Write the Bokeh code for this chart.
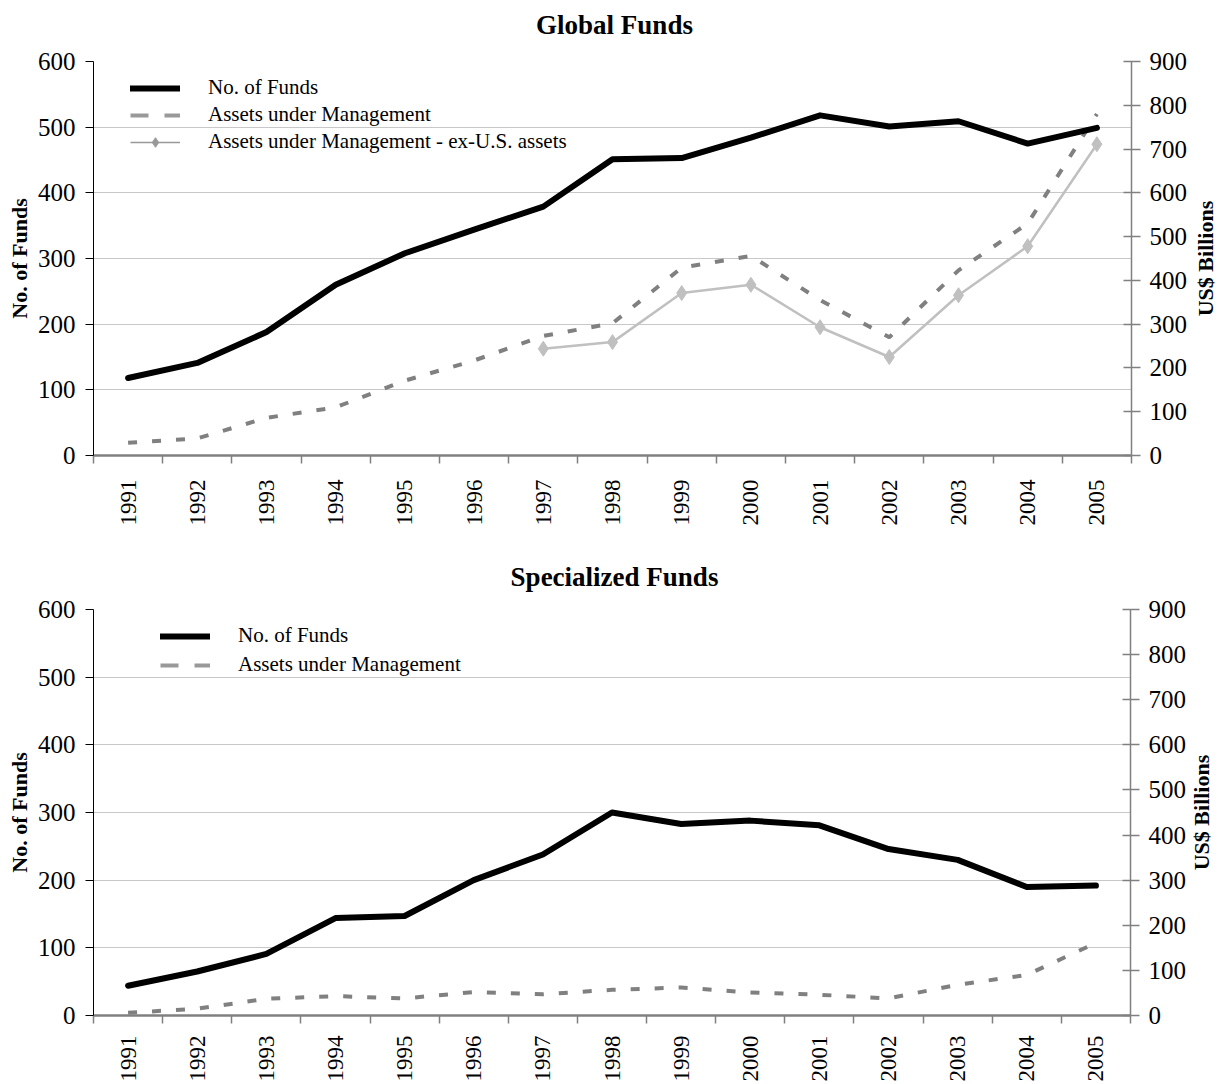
import math
from bokeh.plotting import figure
from bokeh.models import Range1d, LinearAxis, FixedTicker, Legend, LegendItem, Label
from bokeh.layouts import column, row
from bokeh.embed import file_html
from bokeh.resources import INLINE

years = [1991, 1992, 1993, 1994, 1995, 1996, 1997, 1998, 1999, 2000, 2001, 2002, 2003, 2004, 2005]
global_funds = [118, 141, 188, 260, 308, 344, 379, 451, 453, 484, 518, 501, 509, 475, 499]
global_aum = [29, 39, 86, 110, 171, 217, 273, 302, 429, 456, 355, 270, 423, 530, 780]
exus_years = [1997, 1998, 1999, 2000, 2001, 2002, 2003, 2004, 2005]
global_aum_exus = [244, 259, 371, 390, 293, 225, 366, 478, 711]
spec_funds = [44, 65, 91, 144, 147, 200, 238, 300, 283, 288, 281, 246, 230, 190, 192]
spec_aum = [6, 15, 37, 43, 38, 52, 47, 57, 62, 51, 46, 38, 68, 90, 161]

left_ticks = [0, 100, 200, 300, 400, 500, 600]
right_ticks = [0, 100, 200, 300, 400, 500, 600, 700, 800, 900]

FONT = "Liberation Serif"
NAN = float("nan")


def text_fig(width, height, text, x, y, angle, size):
    f = figure(width=width, height=height, x_range=Range1d(0, 1), y_range=Range1d(0, 1),
               output_backend="svg", toolbar_location=None, title=None,
               x_axis_location=None, y_axis_location=None, min_border=0)
    f.outline_line_color = None
    f.grid.visible = False
    f.background_fill_color = "white"
    f.border_fill_color = "white"
    f.add_layout(Label(x=x, y=y, x_units="screen", y_units="screen", text=text, angle=angle,
                       text_align="center", text_baseline="middle",
                       text_font=FONT, text_font_size=size, text_font_style="bold",
                       text_color="black"))
    return f


def make_fig(width, height, border_top, border_bottom, xlabel_standoff):
    boundaries = [y - 0.5 for y in years] + [years[-1] + 0.5]
    p = figure(width=width, height=height,
               x_range=Range1d(years[0] - 0.5, years[-1] + 0.5),
               y_range=Range1d(0, 600),
               output_backend="svg", toolbar_location=None, title=None,
               min_border_left=93, min_border_right=width - 1131,
               min_border_top=border_top, min_border_bottom=border_bottom)
    p.outline_line_color = None
    p.background_fill_color = "white"
    p.border_fill_color = "white"

    p.xgrid.visible = False
    p.ygrid.ticker = FixedTicker(ticks=left_ticks)
    p.ygrid.grid_line_color = "#c8c8c8"
    p.ygrid.grid_line_width = 1

    xa = p.xaxis[0]
    xa.ticker = FixedTicker(ticks=years, minor_ticks=boundaries)
    xa.major_label_orientation = math.pi / 2
    xa.major_tick_line_color = None
    xa.major_tick_out = 0
    xa.major_tick_in = 0
    xa.minor_tick_out = 8
    xa.minor_tick_in = 0
    xa.minor_tick_line_color = "#808080"
    xa.minor_tick_line_width = 1.5
    xa.axis_line_color = "#808080"
    xa.axis_line_width = 2.5
    xa.major_label_text_font = FONT
    xa.major_label_text_font_size = "23px"
    xa.major_label_text_color = "black"
    xa.major_label_standoff = xlabel_standoff

    ya = p.yaxis[0]
    ya.ticker = FixedTicker(ticks=left_ticks)
    ya.axis_line_color = "black"
    ya.axis_line_width = 1
    ya.major_tick_line_color = "black"
    ya.major_tick_out = 8
    ya.major_tick_in = 0
    ya.minor_tick_line_color = None
    ya.major_label_text_font = FONT
    ya.major_label_text_font_size = "25px"
    ya.major_label_text_color = "black"
    ya.major_label_standoff = 10
    ya.axis_label = "No. of Funds"
    ya.axis_label_text_font = FONT
    ya.axis_label_text_font_size = "22px"
    ya.axis_label_text_font_style = "bold"
    ya.axis_label_text_color = "black"
    ya.axis_label_standoff = 3

    p.extra_y_ranges = {"usd": Range1d(0, 900)}
    ra = LinearAxis(y_range_name="usd", ticker=FixedTicker(ticks=right_ticks))
    ra.axis_line_color = "#808080"
    ra.axis_line_width = 1.5
    ra.major_tick_line_color = "#808080"
    ra.major_tick_line_width = 1.5
    ra.major_tick_out = 9
    ra.major_tick_in = 8
    ra.minor_tick_line_color = None
    ra.major_label_text_font = FONT
    ra.major_label_text_font_size = "25px"
    ra.major_label_text_color = "black"
    ra.major_label_standoff = 9
    p.add_layout(ra, "right")
    return p


def style_legend(leg, loc, spacing):
    leg.location = loc
    leg.padding = 0
    leg.margin = 0
    leg.spacing = spacing
    leg.border_line_color = None
    leg.background_fill_alpha = 0
    leg.label_text_font = FONT
    leg.label_text_font_size = "21px"
    leg.label_text_color = "black"
    leg.glyph_width = 50
    leg.glyph_height = 24
    leg.label_height = 24
    leg.label_standoff = 28


# ---------- Global Funds ----------
t1 = text_fig(1218, 40, "Global Funds", 614, 16, 0, "27px")
p1 = make_fig(1192, 492, 21, 77, 16)
p1.line(years, global_aum, y_range_name="usd", line_color="#808080", line_width=4, line_dash="9 15")
p1.line(exus_years, global_aum_exus, y_range_name="usd", line_color="#c0c0c0", line_width=2.5)
p1.scatter(exus_years, global_aum_exus, y_range_name="usd", marker="diamond", size=15,
           fill_color="#c0c0c0", line_color="#c0c0c0")
r_funds1 = p1.line(years, global_funds, line_color="black", line_width=6, line_join="round", line_cap="round")

lg_dash1 = p1.line([NAN], [NAN], line_color="#999999", line_width=4, line_dash="18 16")
lg_ex_line = p1.line([NAN], [NAN], line_color="#999999", line_width=1.5)
lg_ex_pt = p1.scatter([NAN], [NAN], marker="diamond", size=13, fill_color="#999999", line_color="#999999")
leg1 = Legend(items=[
    LegendItem(label="No. of Funds", renderers=[r_funds1]),
    LegendItem(label="Assets under Management", renderers=[lg_dash1]),
    LegendItem(label="Assets under Management - ex-U.S. assets", renderers=[lg_ex_line, lg_ex_pt]),
])
style_legend(leg1, (37, 301), 2)
p1.add_layout(leg1, "center")
# frames in a row share top/bottom borders, so y is measured from the shared frame bottom
r1 = text_fig(26, 492, "US$ Billions", 13, 394 / 2, math.pi / 2, "22px")

# ---------- Specialized Funds ----------
t2 = text_fig(1218, 60, "Specialized Funds", 614, 16, 0, "27px")
p2 = make_fig(1189, 492, 17, 69, 12)
p2.line(years, spec_aum, y_range_name="usd", line_color="#808080", line_width=4, line_dash="9 15")
r_funds2 = p2.line(years, spec_funds, line_color="black", line_width=6, line_join="round", line_cap="round")

lg_dash2 = p2.line([NAN], [NAN], line_color="#999999", line_width=4, line_dash="18 16")
leg2 = Legend(items=[
    LegendItem(label="No. of Funds", renderers=[r_funds2]),
    LegendItem(label="Assets under Management", renderers=[lg_dash2]),
])
style_legend(leg2, (67, 338), 4)
p2.add_layout(leg2, "center")
r2 = text_fig(26, 492, "US$ Billions", 12, 406 / 2, math.pi / 2, "22px")

layout = column(t1, row(p1, r1), t2, row(p2, r2))
open("out.html", "w").write(file_html(layout, INLINE))
